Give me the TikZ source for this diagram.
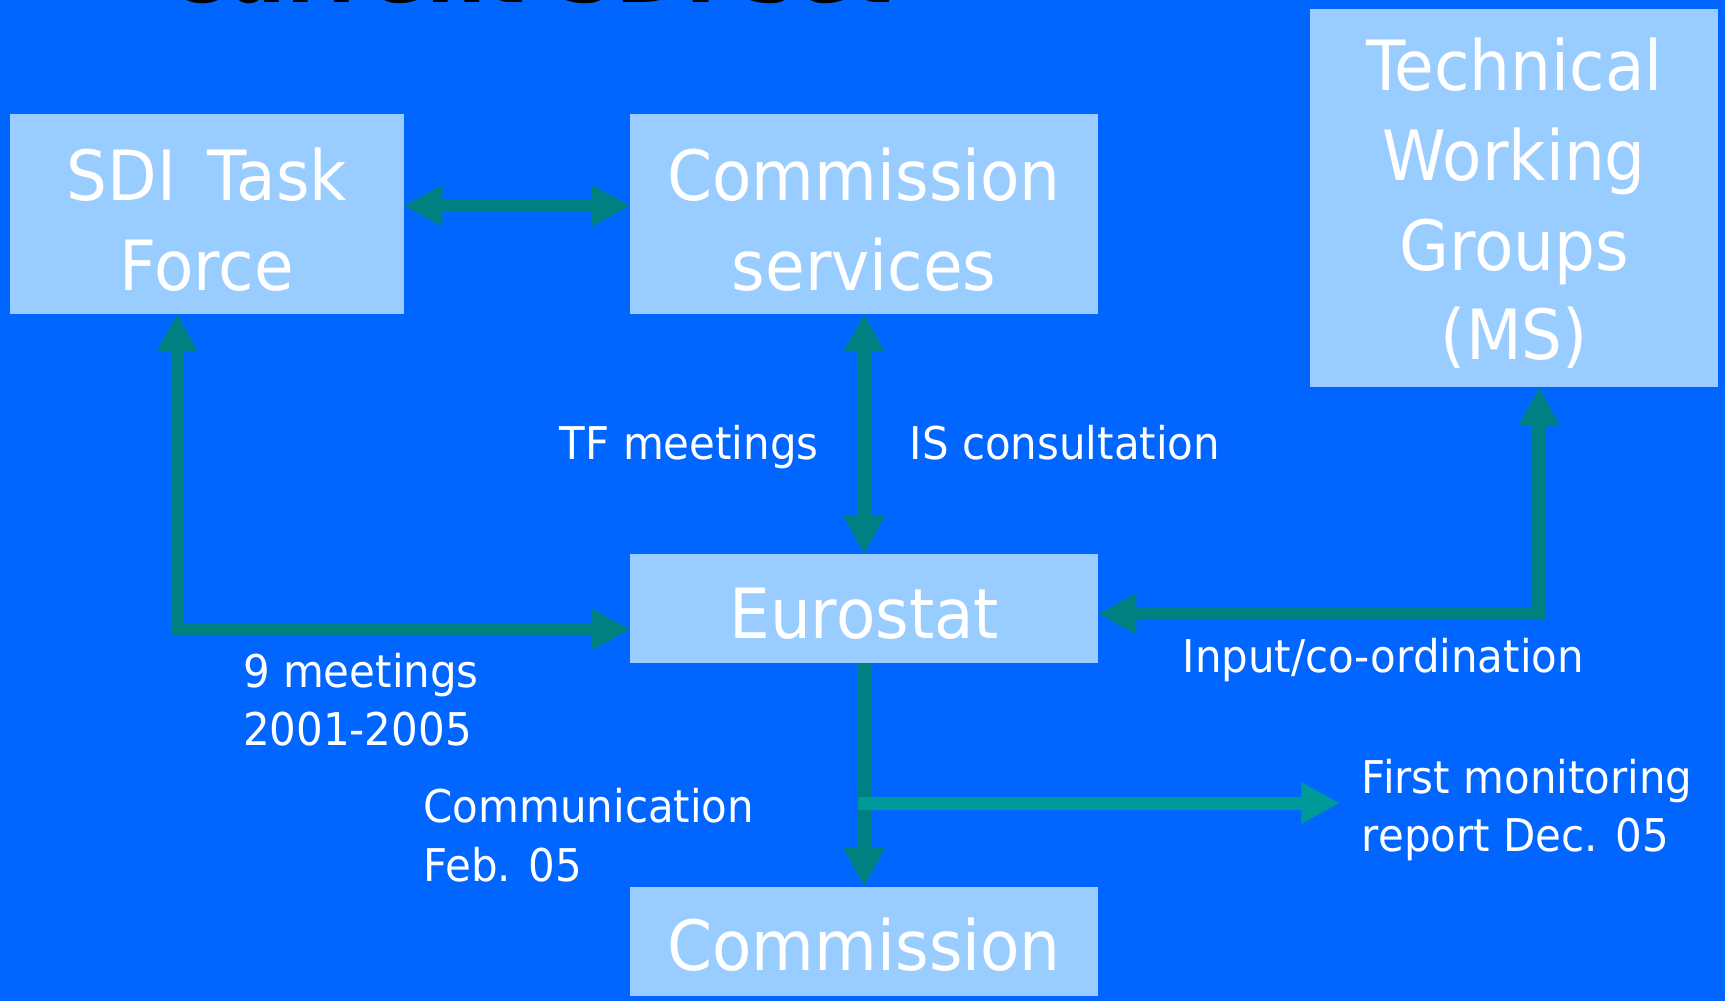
\documentclass[tikz,border=0pt]{standalone}
\usepackage{fontspec}
\setmainfont{DejaVu Sans}[FakeStretch=0.93]
\usetikzlibrary{arrows.meta}
\definecolor{bgblue}{HTML}{0066FF}
\definecolor{boxblue}{HTML}{99CCFF}
\definecolor{arrowteal}{HTML}{008080}
\definecolor{branchteal}{HTML}{009999}
\newcommand{\toppad}[1]{\rule{0pt}{#1}}
\tikzset{
  boxnode/.style={rectangle, fill=boxblue, draw=none, inner sep=0pt, outer sep=0pt,
    text=white, align=center, font=\fontsize{63}{81.5}\selectfont},
  lbl/.style={text=white, inner sep=0pt, outer sep=0pt, align=left, anchor=base west,
    font=\fontsize{41}{53}\selectfont},
  conn/.style={line width=12pt, color=arrowteal, -{Triangle[length=35pt,width=35pt]}},
  dconn/.style={line width=12pt, color=arrowteal, {Triangle[length=35pt,width=35pt]}-{Triangle[length=35pt,width=35pt]}},
}
\begin{document}
\begin{tikzpicture}[x=1pt,y=1pt]
\useasboundingbox (0,0) rectangle (1568,-910);
\fill[bgblue] (0,0) rectangle (1568,-910);

% title (cut off at top)
\node[anchor=base west, inner sep=0pt, text=black, font=\fontsize{82}{90}\selectfont\bfseries] (title) at (150,-2.5) {Current SDI set};

% boxes
\node[boxnode, minimum width=358pt, minimum height=181pt] (sdi) at (188,-194.5) {\toppad{58pt}SDI\hspace{10pt} Task\\Force};
\node[boxnode, minimum width=425pt, minimum height=181pt] (cs) at (785.5,-194.5) {\toppad{58pt}Commission\\services};
\node[boxnode, minimum width=371pt, minimum height=344pt] (twg) at (1376.5,-180) {\toppad{58pt}Technical\\Working\\Groups\\(MS)};
\node[boxnode, minimum width=425pt, minimum height=99pt] (eu) at (785.5,-553.5) {\toppad{55pt}Eurostat};
\node[boxnode, minimum width=425pt, minimum height=99pt] (com) at (785.5,-855.5) {\toppad{54pt}Commission};

% helper coordinates
\coordinate (yTop) at (0,-187);
\coordinate (xL) at (161,0);
\coordinate (yLow) at (0,-572);
\coordinate (yR) at (0,-558);
\coordinate (xR) at (1399,0);
\coordinate (bstart) at (780,-730);
\coordinate (bend) at (1218,-730);

% connectors
\draw[dconn] (sdi.east |- yTop) -- (cs.west |- yTop);
\draw[dconn] (sdi.south -| xL) |- (eu.west |- yLow);
\draw[dconn] (cs.south) -- (eu.north);
\draw[dconn] (eu.east |- yR) -| (twg.south -| xR);
\draw[conn] (eu.south) -- (com.north);
\draw[conn, color=branchteal] (bstart) -- (bend);

% labels
\node[lbl] (tf) at (509,-418) {TF meetings};
\node[lbl] (is) at (827,-418) {IS consultation};
\node[lbl] (nine) at (221,-678) {9 meetings\\2001-2005};
\node[lbl] (inp) at (1075,-611) {Input/co-ordination};
\node[lbl] (comm) at (385,-801) {Communication\\Feb. 05};
\node[lbl] (first) at (1238,-774) {First monitoring\\report Dec. 05};
\end{tikzpicture}
\end{document}
